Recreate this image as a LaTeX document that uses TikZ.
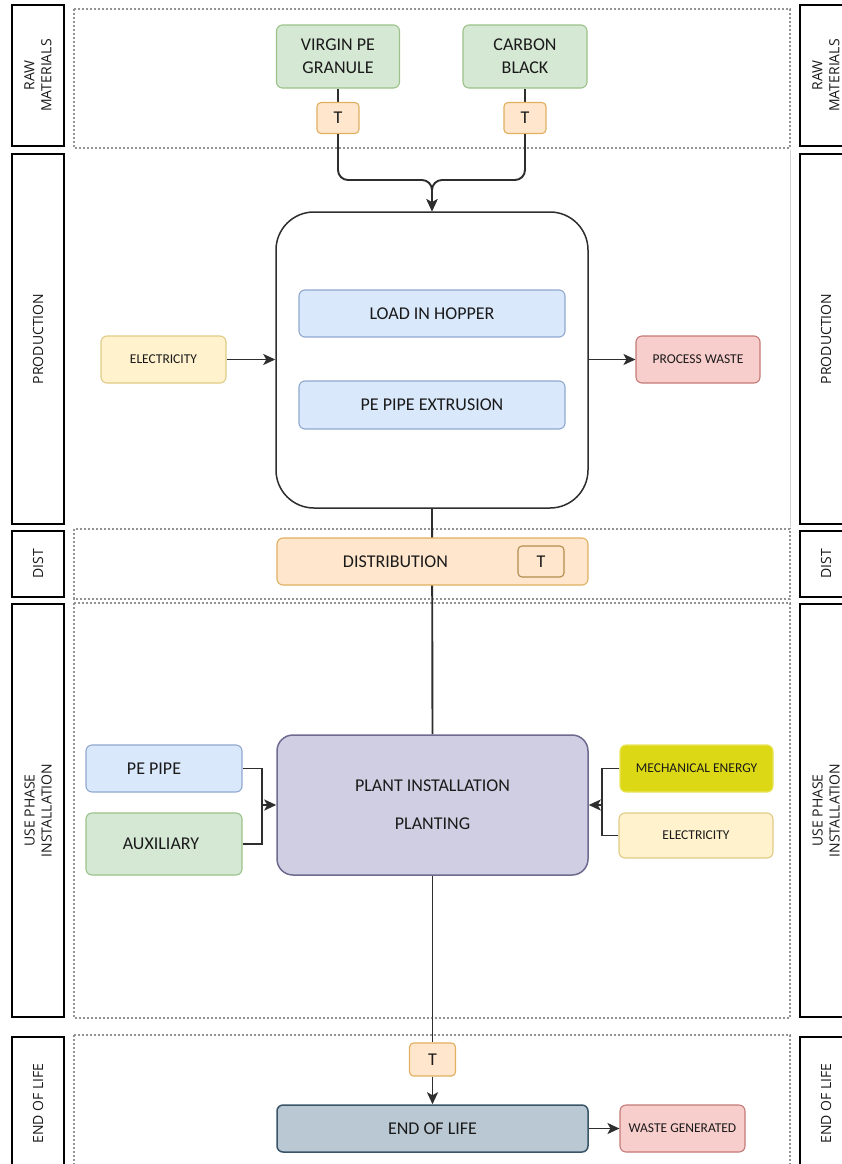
\documentclass[tikz,border=0pt]{standalone}
\usepackage{fontspec}
\setmainfont{Carlito}
\newfontfamily\lblfont{Open Sans}
\usetikzlibrary{arrows.meta}
\pgfdeclarelayer{bg}
\pgfsetlayers{bg,main}
\definecolor{txt}{HTML}{1A1A1A}
\definecolor{dk}{HTML}{2E2E2E}
\definecolor{gfill}{HTML}{D5E8D4}\definecolor{gdraw}{HTML}{9CC28A}
\definecolor{bfill}{HTML}{DAE8FC}\definecolor{bdraw}{HTML}{8FA8CF}
\definecolor{yfill}{HTML}{FFF2CC}\definecolor{ydraw}{HTML}{E0CB85}
\definecolor{rfill}{HTML}{F8CECC}\definecolor{rdraw}{HTML}{C47A77}
\definecolor{ofill}{HTML}{FFE6CC}\definecolor{odraw}{HTML}{E0B060}
\definecolor{pfill}{HTML}{D0CEE2}\definecolor{pdraw}{HTML}{6E6A90}
\definecolor{sfill}{HTML}{BAC8D3}\definecolor{sdraw}{HTML}{3A5468}
\definecolor{mfill}{HTML}{DDD816}\definecolor{mdraw}{HTML}{E8E45A}
\begin{document}
\begin{tikzpicture}[x=1pt,y=-1pt,
  box/.style={draw, rounded corners=6pt, line width=1.1pt, align=center, text=txt,
    inner sep=0pt, font=\fontsize{18}{23}\selectfont},
  sbox/.style={box, font=\fontsize{13.5}{16}\selectfont},
  gbox/.style={fill=gfill, draw=gdraw},
  bbox/.style={fill=bfill, draw=bdraw},
  ybox/.style={fill=yfill, draw=ydraw},
  rbox/.style={fill=rfill, draw=rdraw},
  obox/.style={fill=ofill, draw=odraw},
  tbox/.style={box, obox, rounded corners=4pt, minimum width=42pt, minimum height=31pt},
  lbl/.style={draw=black, line width=1.2pt, fill=white, rotate=90, align=center,
    minimum height=52pt, inner sep=0pt, text=txt, font=\lblfont\fontsize{14}{17}\selectfont},
  region/.style={draw=gray!85, line width=1.5pt, dash pattern=on 2.2pt off 1.8pt},
  conn/.style={draw=dk, line width=1.9pt},
  arr/.style={conn, -{Stealth[length=12pt,width=11pt,inset=3pt]}}
]
\useasboundingbox (0,0) rectangle (842,1164);
\clip (0,0) rectangle (842,1164);

% strip labels left
\node[lbl, minimum width=141pt] (rawL)  at (38,75.5)   {RAW\\MATERIALS};
\node[lbl, minimum width=370pt] (prodL) at (38,339)    {PRODUCTION};
\node[lbl, minimum width=66pt]  (distL) at (38,564)    {DIST};
\node[lbl, minimum width=413pt] (useL)  at (38,810.5)  {USE PHASE\\INSTALLATION};
\node[lbl, minimum width=133pt] (eolL)  at (38,1103.5) {END OF LIFE};
% strip labels right
\node[lbl, minimum width=141pt] (rawR)  at (826,75.5)   {RAW\\MATERIALS};
\node[lbl, minimum width=370pt] (prodR) at (826,339)    {PRODUCTION};
\node[lbl, minimum width=66pt]  (distR) at (826,564)    {DIST};
\node[lbl, minimum width=413pt] (useR)  at (826,810.5)  {USE PHASE\\INSTALLATION};
\node[lbl, minimum width=133pt] (eolR)  at (826,1103.5) {END OF LIFE};

% raw materials
\node[box, gbox, minimum width=123pt, minimum height=63pt] (virgin) at (338,56.5) {VIRGIN PE\\GRANULE};
\node[box, gbox, minimum width=124pt, minimum height=63pt] (carbon) at (525,56.5) {CARBON\\BLACK};
\node[tbox] (t1) at (338,118) {T};
\node[tbox] (t2) at (525,118) {T};

% production
\node[box, draw=dk, fill=white, line width=1.5pt, rounded corners=38pt, minimum width=312pt, minimum height=296pt] (prod) at (432,360) {};
\node[box, bbox, minimum width=266pt, minimum height=47pt] (load) at (432,313.5) {LOAD IN HOPPER};
\node[box, bbox, minimum width=266pt, minimum height=48pt] (extr) at (432,405) {PE PIPE EXTRUSION};
\node[sbox, ybox, minimum width=125pt, minimum height=47pt] (elec1) at (163.5,359.5) {ELECTRICITY};
\node[sbox, rbox, minimum width=124pt, minimum height=47pt] (pwaste) at (698,359.5) {PROCESS WASTE};

% distribution
\node[box, obox, minimum width=311pt, minimum height=47pt] (dist) at (432.5,561.5) {DISTRIBUTION\hspace*{74pt}};
\node[tbox, draw=odraw!80!black, minimum width=46pt] (t4) at (541,561.5) {T};

% use phase
\node[box, fill=pfill, draw=pdraw, rounded corners=16pt, line width=1.5pt, minimum width=311pt, minimum height=140pt] (plant) at (432.5,805) {PLANT INSTALLATION\\[15pt]PLANTING};
\node[box, bbox, minimum width=156pt, minimum height=47pt] (pepipe) at (164,768.5) {PE PIPE\hspace*{20pt}};
\node[box, gbox, minimum width=156pt, minimum height=62pt] (aux) at (164,844) {AUXILIARY\hspace*{6pt}};
\node[sbox, fill=mfill, draw=mdraw, minimum width=153pt, minimum height=47pt] (mech) at (696.5,768.5) {MECHANICAL ENERGY};
\node[sbox, ybox, minimum width=154pt, minimum height=45pt] (elec2) at (696,835.5) {ELECTRICITY};

% end of life
\node[tbox, minimum width=46pt, minimum height=33pt] (t3) at (432.5,1059.5) {T};
\node[box, fill=sfill, draw=sdraw, line width=1.5pt, minimum width=311pt, minimum height=47pt] (eol) at (432.5,1128.5) {END OF LIFE};
\node[sbox, rbox, minimum width=125pt, minimum height=47pt] (wgen) at (682.5,1128.5) {WASTE GENERATED};

\coordinate (mrg) at (432,180);
\coordinate (lm) at (262,805);
\coordinate (rm) at (602,805);

\begin{pgfonlayer}{bg}
  \fill[white] (0,0) rectangle (842,1164);
  \draw[region] (74,9) rectangle (790,148);
  \draw[region] (74,529) rectangle (790,599);
  \draw[region] (74,603) rectangle (790,1018);
  \draw[region] (74,1035) rectangle (790,1190);
  \draw[gray!35, line width=1pt] (790,150) -- (790,527);
  \draw[conn] (virgin.south) -- (t1.north);
  \draw[conn] (carbon.south) -- (t2.north);
  \draw[conn] (prod.south) -- (plant.north);
  \draw[conn] (plant.south) -- (t3.north);
\end{pgfonlayer}

\draw[arr, rounded corners=10pt] (t1.south) |- (mrg) -- (prod.north);
\draw[arr, rounded corners=10pt] (t2.south) |- (mrg) -- (prod.north);
\draw[arr] (elec1.east) -- (prod.west |- elec1.east);
\draw[arr] (prod.east |- pwaste.west) -- (pwaste.west);
\draw[conn] (pepipe.east) -| (lm);
\draw[conn] (aux.east) -| (lm);
\draw[arr] (lm) -- (plant.west);
\draw[conn] (mech.west) -| (rm);
\draw[conn] (elec2.west) -| (rm);
\draw[arr] (rm) -- (plant.east);
\draw[arr] (t3.south) -- (eol.north);
\draw[arr] (eol.east) -- (wgen.west);
\end{tikzpicture}
\end{document}
